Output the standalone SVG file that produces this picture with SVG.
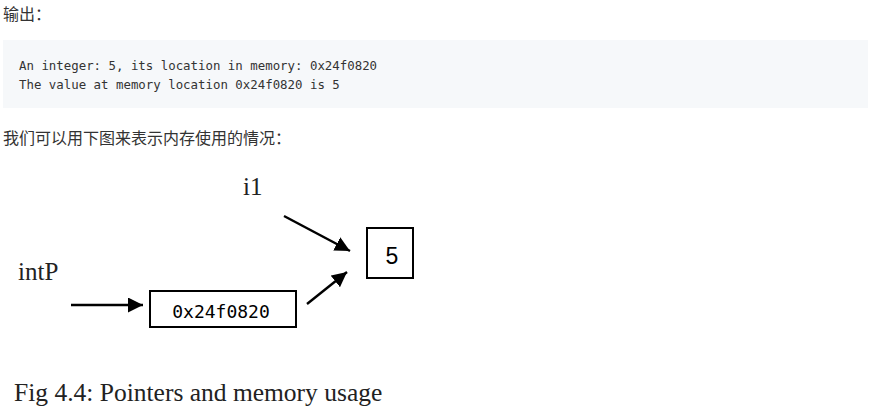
<svg xmlns="http://www.w3.org/2000/svg" width="875" height="414" viewBox="0 0 875 414">
<style>
.cjk{font-family:"Microsoft YaHei","Noto Sans CJK SC",sans-serif;font-size:16px;fill:#333}
.code{font-family:"DejaVu Sans Mono","Liberation Mono",monospace;font-size:12.4px;fill:#333}
.serif{font-family:"Liberation Serif","DejaVu Serif",serif;fill:#222}
.box{fill:#fff;stroke:#000;stroke-width:2}
.conn{stroke:#000;stroke-width:2.5;fill:none}
</style>
<defs>
<marker id="ah" viewBox="0 0 10 10" refX="10" refY="5" markerWidth="6" markerHeight="6" markerUnits="strokeWidth" orient="auto">
<path d="M0,0 L10,5 L0,10 z" fill="#000"/>
</marker>
</defs>
<rect width="875" height="414" fill="#fff"/>
<text class="cjk" x="3" y="20">输出：</text>
<rect x="3" y="40" width="865" height="68" fill="#f6f8fa"/>
<text class="code" x="19" y="70">An integer: 5, its location in memory: 0x24f0820</text>
<text class="code" x="19" y="89">The value at memory location 0x24f0820 is 5</text>
<text class="cjk" x="3" y="144">我们可以用下图来表示内存使用的情况：</text>
<g id="i1"><text class="serif" x="243" y="195" font-size="25">i1</text></g>
<g id="intP"><text class="serif" x="18" y="280" font-size="25">intP</text></g>
<g id="val5">
<rect class="box" x="367" y="228" width="46" height="50"/>
<text x="392" y="264" text-anchor="middle" font-family="Liberation Sans, Arial, sans-serif" font-size="23" fill="#000">5</text>
</g>
<g id="ptr">
<rect class="box" x="150" y="291" width="146" height="36"/>
<text x="221" y="318" text-anchor="middle" font-family="DejaVu Sans Mono, monospace" font-size="18" fill="#000">0x24f0820</text>
</g>
<g id="connectors">
<line class="conn" x1="284" y1="216" x2="350" y2="251" marker-end="url(#ah)"/>
<line class="conn" x1="307" y1="304" x2="347" y2="272" marker-end="url(#ah)"/>
<line class="conn" x1="71" y1="305" x2="143" y2="305" marker-end="url(#ah)"/>
</g>
<text class="serif" x="14" y="401" font-size="25.5" fill="#333">Fig 4.4: Pointers and memory usage</text>
</svg>
